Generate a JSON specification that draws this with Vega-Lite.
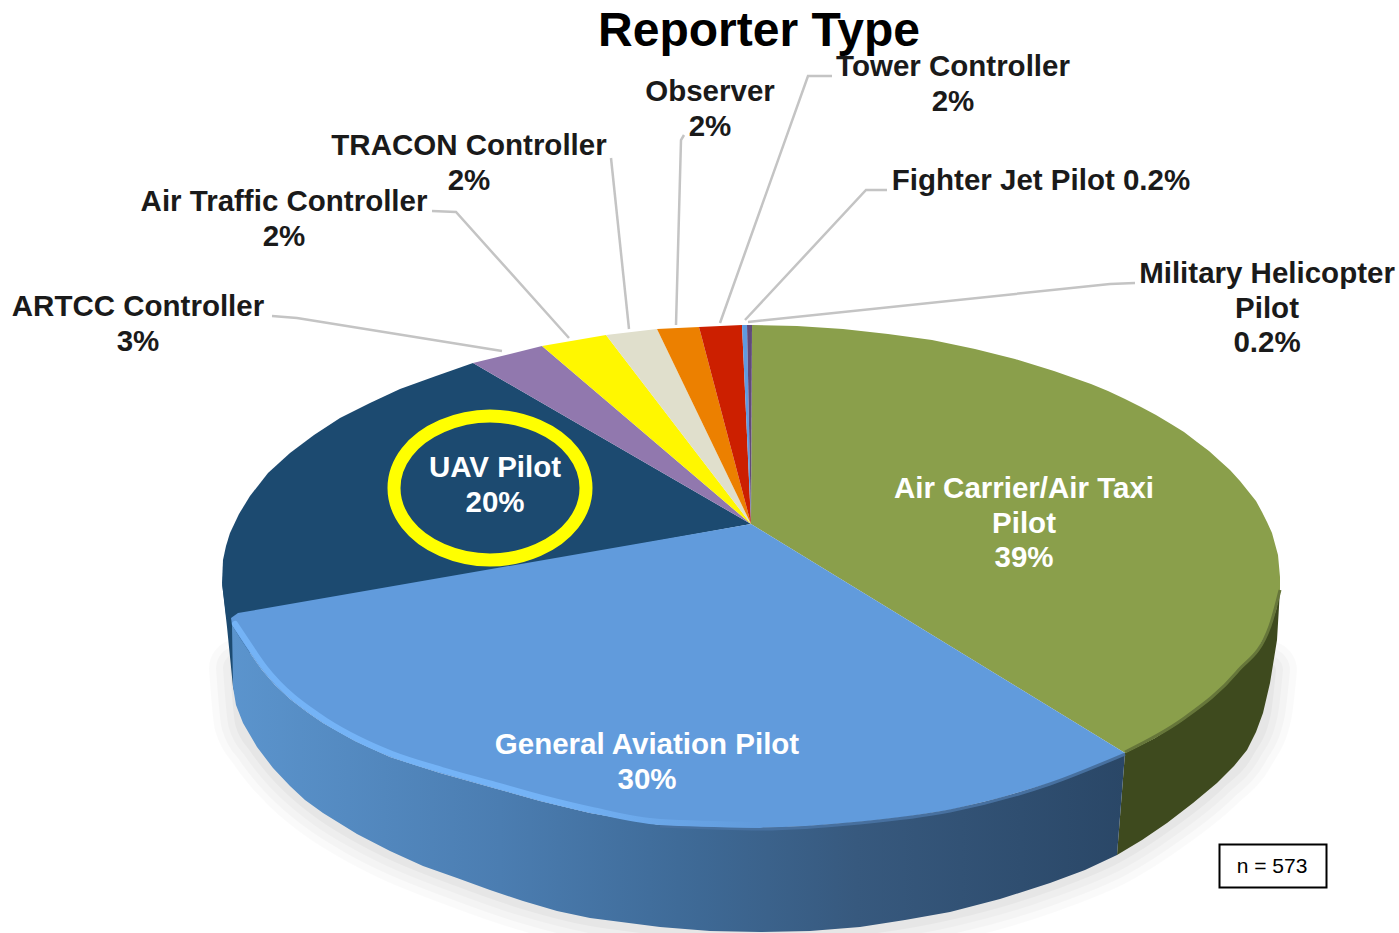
{"$schema":"https://vega.github.io/schema/vega-lite/v6.json","width":1399,"height":933,"padding":0,"autosize":{"type":"none"},"background":"white","view":{"stroke":null},
"config":{"view":{"stroke":null},"axis":{"disable":true},"legend":{"disable":true}},
"datasets":{
"faces":[
{"s":"Air Carrier/Air Taxi Pilot","i":0,"x":751,"y":524},{"s":"Air Carrier/Air Taxi Pilot","i":1,"x":752,"y":325},{"s":"Air Carrier/Air Taxi Pilot","i":2,"x":797,"y":326},{"s":"Air Carrier/Air Taxi Pilot","i":3,"x":843,"y":329},{"s":"Air Carrier/Air Taxi Pilot","i":4,"x":888,"y":334},{"s":"Air Carrier/Air Taxi Pilot","i":5,"x":932,"y":340},{"s":"Air Carrier/Air Taxi Pilot","i":6,"x":975,"y":349},{"s":"Air Carrier/Air Taxi Pilot","i":7,"x":1015,"y":359},{"s":"Air Carrier/Air Taxi Pilot","i":8,"x":1054,"y":371},{"s":"Air Carrier/Air Taxi Pilot","i":9,"x":1091,"y":384},{"s":"Air Carrier/Air Taxi Pilot","i":10,"x":1108,"y":391},{"s":"Air Carrier/Air Taxi Pilot","i":11,"x":1125,"y":399},{"s":"Air Carrier/Air Taxi Pilot","i":12,"x":1141,"y":407},{"s":"Air Carrier/Air Taxi Pilot","i":13,"x":1156,"y":415},{"s":"Air Carrier/Air Taxi Pilot","i":14,"x":1171,"y":424},{"s":"Air Carrier/Air Taxi Pilot","i":15,"x":1184,"y":432},{"s":"Air Carrier/Air Taxi Pilot","i":16,"x":1197,"y":442},{"s":"Air Carrier/Air Taxi Pilot","i":17,"x":1209,"y":451},{"s":"Air Carrier/Air Taxi Pilot","i":18,"x":1220,"y":461},{"s":"Air Carrier/Air Taxi Pilot","i":19,"x":1230,"y":470},{"s":"Air Carrier/Air Taxi Pilot","i":20,"x":1240,"y":481},{"s":"Air Carrier/Air Taxi Pilot","i":21,"x":1248,"y":491},{"s":"Air Carrier/Air Taxi Pilot","i":22,"x":1256,"y":501},{"s":"Air Carrier/Air Taxi Pilot","i":23,"x":1262,"y":512},{"s":"Air Carrier/Air Taxi Pilot","i":24,"x":1267,"y":522},{"s":"Air Carrier/Air Taxi Pilot","i":25,"x":1272,"y":533},{"s":"Air Carrier/Air Taxi Pilot","i":26,"x":1275,"y":544},{"s":"Air Carrier/Air Taxi Pilot","i":27,"x":1278,"y":555},{"s":"Air Carrier/Air Taxi Pilot","i":28,"x":1279,"y":566},{"s":"Air Carrier/Air Taxi Pilot","i":29,"x":1280,"y":577},{"s":"Air Carrier/Air Taxi Pilot","i":30,"x":1280,"y":592},{"s":"Air Carrier/Air Taxi Pilot","i":31,"x":1276,"y":610},{"s":"Air Carrier/Air Taxi Pilot","i":32,"x":1270,"y":627},{"s":"Air Carrier/Air Taxi Pilot","i":33,"x":1256,"y":652},{"s":"Air Carrier/Air Taxi Pilot","i":34,"x":1237,"y":673},{"s":"Air Carrier/Air Taxi Pilot","i":35,"x":1212,"y":698},{"s":"Air Carrier/Air Taxi Pilot","i":36,"x":1183,"y":720},{"s":"Air Carrier/Air Taxi Pilot","i":37,"x":1155,"y":738},{"s":"Air Carrier/Air Taxi Pilot","i":38,"x":1125,"y":753},
{"s":"UAV Pilot","i":0,"x":751,"y":524},{"s":"UAV Pilot","i":1,"x":232,"y":618},{"s":"UAV Pilot","i":2,"x":226,"y":615},{"s":"UAV Pilot","i":3,"x":222,"y":583},{"s":"UAV Pilot","i":4,"x":223,"y":560},{"s":"UAV Pilot","i":5,"x":226,"y":546},{"s":"UAV Pilot","i":6,"x":230,"y":533},{"s":"UAV Pilot","i":7,"x":239,"y":514},{"s":"UAV Pilot","i":8,"x":250,"y":496},{"s":"UAV Pilot","i":9,"x":268,"y":473},{"s":"UAV Pilot","i":10,"x":290,"y":453},{"s":"UAV Pilot","i":11,"x":314,"y":435},{"s":"UAV Pilot","i":12,"x":340,"y":418},{"s":"UAV Pilot","i":13,"x":370,"y":403},{"s":"UAV Pilot","i":14,"x":400,"y":389},{"s":"UAV Pilot","i":15,"x":436,"y":376},{"s":"UAV Pilot","i":16,"x":473,"y":363},
{"s":"General Aviation Pilot","i":0,"x":751,"y":524},{"s":"General Aviation Pilot","i":1,"x":1125,"y":753},{"s":"General Aviation Pilot","i":2,"x":1090,"y":769},{"s":"General Aviation Pilot","i":3,"x":1050,"y":783},{"s":"General Aviation Pilot","i":4,"x":1000,"y":798},{"s":"General Aviation Pilot","i":5,"x":950,"y":810},{"s":"General Aviation Pilot","i":6,"x":905,"y":817},{"s":"General Aviation Pilot","i":7,"x":860,"y":822},{"s":"General Aviation Pilot","i":8,"x":810,"y":826},{"s":"General Aviation Pilot","i":9,"x":760,"y":828},{"s":"General Aviation Pilot","i":10,"x":710,"y":828},{"s":"General Aviation Pilot","i":11,"x":660,"y":825},{"s":"General Aviation Pilot","i":12,"x":590,"y":813},{"s":"General Aviation Pilot","i":13,"x":540,"y":801},{"s":"General Aviation Pilot","i":14,"x":490,"y":787},{"s":"General Aviation Pilot","i":15,"x":440,"y":773},{"s":"General Aviation Pilot","i":16,"x":390,"y":757},{"s":"General Aviation Pilot","i":17,"x":355,"y":741},{"s":"General Aviation Pilot","i":18,"x":323,"y":723},{"s":"General Aviation Pilot","i":19,"x":307,"y":712},{"s":"General Aviation Pilot","i":20,"x":290,"y":699},{"s":"General Aviation Pilot","i":21,"x":275,"y":685},{"s":"General Aviation Pilot","i":22,"x":262,"y":670},{"s":"General Aviation Pilot","i":23,"x":250,"y":653},{"s":"General Aviation Pilot","i":24,"x":240,"y":638},{"s":"General Aviation Pilot","i":25,"x":232,"y":625},{"s":"General Aviation Pilot","i":26,"x":231,"y":618},{"s":"General Aviation Pilot","i":27,"x":238,"y":613},
{"s":"ARTCC Controller","i":0,"x":751,"y":524},{"s":"ARTCC Controller","i":1,"x":473,"y":363},{"s":"ARTCC Controller","i":2,"x":542,"y":346},
{"s":"Air Traffic Controller","i":0,"x":751,"y":524},{"s":"Air Traffic Controller","i":1,"x":542,"y":346},{"s":"Air Traffic Controller","i":2,"x":606,"y":335},
{"s":"TRACON Controller","i":0,"x":751,"y":524},{"s":"TRACON Controller","i":1,"x":606,"y":335},{"s":"TRACON Controller","i":2,"x":657,"y":329},
{"s":"Observer","i":0,"x":751,"y":524},{"s":"Observer","i":1,"x":657,"y":329},{"s":"Observer","i":2,"x":699,"y":327},
{"s":"Tower Controller","i":0,"x":751,"y":524},{"s":"Tower Controller","i":1,"x":699,"y":327},{"s":"Tower Controller","i":2,"x":742,"y":325},
{"s":"Fighter Jet Pilot","i":0,"x":751,"y":524},{"s":"Fighter Jet Pilot","i":1,"x":742,"y":325},{"s":"Fighter Jet Pilot","i":2,"x":747,"y":325},
{"s":"Military Helicopter Pilot","i":0,"x":751,"y":524},{"s":"Military Helicopter Pilot","i":1,"x":747,"y":325},{"s":"Military Helicopter Pilot","i":2,"x":752,"y":325}
],
"greenWall":[{"i":0,"x":1280,"y":590},{"i":1,"x":1276,"y":610},{"i":2,"x":1270,"y":627},{"i":3,"x":1256,"y":652},{"i":4,"x":1237,"y":673},{"i":5,"x":1212,"y":698},{"i":6,"x":1183,"y":720},{"i":7,"x":1155,"y":738},{"i":8,"x":1125,"y":753},{"i":9,"x":1117,"y":855},{"i":10,"x":1142,"y":840},{"i":11,"x":1167,"y":823},{"i":12,"x":1193,"y":803},{"i":13,"x":1217,"y":783},{"i":14,"x":1234,"y":766},{"i":15,"x":1247,"y":750},{"i":16,"x":1256,"y":732},{"i":17,"x":1263,"y":713},{"i":18,"x":1270,"y":683},{"i":19,"x":1277,"y":640}],
"uavWall":[{"i":0,"x":222,"y":583},{"i":1,"x":227,"y":627},{"i":2,"x":233,"y":687},{"i":3,"x":241,"y":716},{"i":4,"x":262,"y":720},{"i":5,"x":245,"y":625}],
"blueWall":[{"i":0,"x":232,"y":625},{"i":1,"x":240,"y":638},{"i":2,"x":250,"y":653},{"i":3,"x":262,"y":670},{"i":4,"x":275,"y":685},{"i":5,"x":290,"y":699},{"i":6,"x":307,"y":712},{"i":7,"x":323,"y":723},{"i":8,"x":355,"y":741},{"i":9,"x":390,"y":757},{"i":10,"x":440,"y":773},{"i":11,"x":490,"y":787},{"i":12,"x":540,"y":801},{"i":13,"x":590,"y":813},{"i":14,"x":660,"y":825},{"i":15,"x":710,"y":828},{"i":16,"x":760,"y":828},{"i":17,"x":810,"y":826},{"i":18,"x":860,"y":822},{"i":19,"x":905,"y":817},{"i":20,"x":950,"y":810},{"i":21,"x":1000,"y":798},{"i":22,"x":1050,"y":783},{"i":23,"x":1090,"y":769},{"i":24,"x":1125,"y":753},{"i":25,"x":1117,"y":855},{"i":26,"x":1085,"y":870},{"i":27,"x":1050,"y":883},{"i":28,"x":1000,"y":899},{"i":29,"x":950,"y":912},{"i":30,"x":905,"y":920},{"i":31,"x":860,"y":927},{"i":32,"x":810,"y":931},{"i":33,"x":760,"y":932},{"i":34,"x":710,"y":931},{"i":35,"x":660,"y":927},{"i":36,"x":590,"y":918},{"i":37,"x":557,"y":911},{"i":38,"x":523,"y":901},{"i":39,"x":490,"y":890},{"i":40,"x":457,"y":878},{"i":41,"x":423,"y":866},{"i":42,"x":390,"y":851},{"i":43,"x":357,"y":834},{"i":44,"x":323,"y":813},{"i":45,"x":305,"y":800},{"i":46,"x":290,"y":786},{"i":47,"x":273,"y":768},{"i":48,"x":257,"y":747},{"i":49,"x":243,"y":723},{"i":50,"x":236,"y":705},{"i":51,"x":233,"y":687}],
"rim":[{"i":0,"x":238,"y":668},{"i":1,"x":243,"y":723},{"i":2,"x":257,"y":747},{"i":3,"x":273,"y":768},{"i":4,"x":290,"y":786},{"i":5,"x":323,"y":813},{"i":6,"x":357,"y":834},{"i":7,"x":390,"y":851},{"i":8,"x":457,"y":878},{"i":9,"x":523,"y":901},{"i":10,"x":590,"y":918},{"i":11,"x":660,"y":927},{"i":12,"x":760,"y":932},{"i":13,"x":860,"y":927},{"i":14,"x":950,"y":912},{"i":15,"x":1050,"y":883},{"i":16,"x":1117,"y":855},{"i":17,"x":1167,"y":823},{"i":18,"x":1217,"y":783},{"i":19,"x":1247,"y":750},{"i":20,"x":1263,"y":713},{"i":21,"x":1268,"y":670}],
"highlight":[{"i":0,"x":235,"y":624},{"i":1,"x":243,"y":636},{"i":2,"x":253,"y":651},{"i":3,"x":265,"y":668},{"i":4,"x":278,"y":683},{"i":5,"x":293,"y":697},{"i":6,"x":310,"y":710},{"i":7,"x":326,"y":721},{"i":8,"x":358,"y":739},{"i":9,"x":392,"y":754},{"i":10,"x":442,"y":770},{"i":11,"x":492,"y":784},{"i":12,"x":542,"y":798},{"i":13,"x":592,"y":810},{"i":14,"x":660,"y":822},{"i":15,"x":760,"y":825}],
"greenEdge":[{"i":0,"x":1280,"y":590},{"i":1,"x":1270,"y":626},{"i":2,"x":1237,"y":672},{"i":3,"x":1183,"y":719},{"i":4,"x":1125,"y":752}],
"blueEdge":[{"i":0,"x":660,"y":826},{"i":1,"x":760,"y":829},{"i":2,"x":860,"y":823},{"i":3,"x":950,"y":811},{"i":4,"x":1050,"y":784},{"i":5,"x":1125,"y":754}],
"leaders":[
{"l":"ARTCC","i":0,"x":272,"y":316},{"l":"ARTCC","i":1,"x":297,"y":318},{"l":"ARTCC","i":2,"x":502,"y":351},
{"l":"ATC","i":0,"x":432,"y":211},{"l":"ATC","i":1,"x":456,"y":212},{"l":"ATC","i":2,"x":569,"y":338},
{"l":"TRACON","i":0,"x":611,"y":158},{"l":"TRACON","i":1,"x":629,"y":329},
{"l":"Observer","i":0,"x":684,"y":135},{"l":"Observer","i":1,"x":681,"y":140},{"l":"Observer","i":2,"x":676,"y":325},
{"l":"Tower","i":0,"x":832,"y":76},{"l":"Tower","i":1,"x":808,"y":76},{"l":"Tower","i":2,"x":720,"y":323},
{"l":"Fighter","i":0,"x":887,"y":190},{"l":"Fighter","i":1,"x":866,"y":190},{"l":"Fighter","i":2,"x":745,"y":320},
{"l":"Military","i":0,"x":1135,"y":283},{"l":"Military","i":1,"x":1110,"y":284},{"l":"Military","i":2,"x":748,"y":322}],
"ring":[{"i":0,"x":586,"y":488},{"i":1,"x":573,"y":452},{"i":2,"x":538,"y":426},{"i":3,"x":490,"y":416},{"i":4,"x":442,"y":426},{"i":5,"x":407,"y":452},{"i":6,"x":394,"y":488},{"i":7,"x":407,"y":524},{"i":8,"x":442,"y":550},{"i":9,"x":490,"y":560},{"i":10,"x":538,"y":550},{"i":11,"x":573,"y":524}],
"darkLabels":[{"t":"Tower Controller\n2%","x":953,"y":67},{"t":"Observer\n2%","x":710,"y":92},{"t":"TRACON Controller\n2%","x":469,"y":146},{"t":"Air Traffic Controller\n2%","x":284,"y":202},{"t":"ARTCC Controller\n3%","x":138,"y":307},{"t":"Fighter Jet Pilot 0.2%","x":1041,"y":181},{"t":"Military Helicopter\nPilot\n0.2%","x":1267,"y":274}],
"lightLabels":[{"t":"UAV Pilot\n20%","x":495,"y":468},{"t":"Air Carrier/Air Taxi\nPilot\n39%","x":1024,"y":489},{"t":"General Aviation Pilot\n30%","x":647,"y":745}]
},
"encoding":{"x":{"field":"x","type":"quantitative","scale":{"domain":[0,1399],"nice":false,"zero":false},"axis":null},"y":{"field":"y","type":"quantitative","scale":{"domain":[933,0],"nice":false,"zero":false},"axis":null}},
"layer":[
{"data":{"name":"rim"},"mark":{"type":"line","stroke":"#000000","strokeOpacity":0.02,"strokeWidth":58,"strokeCap":"round","interpolate":"monotone"},"encoding":{"order":{"field":"i"}}},
{"data":{"name":"rim"},"mark":{"type":"line","stroke":"#000000","strokeOpacity":0.025,"strokeWidth":44,"strokeCap":"round","interpolate":"monotone"},"encoding":{"order":{"field":"i"}}},
{"data":{"name":"rim"},"mark":{"type":"line","stroke":"#000000","strokeOpacity":0.025,"strokeWidth":30,"strokeCap":"round","interpolate":"monotone"},"encoding":{"order":{"field":"i"}}},
{"data":{"name":"rim"},"mark":{"type":"line","stroke":"#000000","strokeOpacity":0.03,"strokeWidth":16,"strokeCap":"round","interpolate":"monotone"},"encoding":{"order":{"field":"i"}}},
{"data":{"name":"uavWall"},"mark":{"type":"line","fill":"#1c4a70","strokeWidth":0},"encoding":{"order":{"field":"i"}}},
{"data":{"name":"greenWall"},"mark":{"type":"line","fill":"#3e4a1e","strokeWidth":0},"encoding":{"order":{"field":"i"}}},
{"data":{"name":"blueWall"},"mark":{"type":"line","strokeWidth":0,"fill":{"gradient":"linear","x1":0,"y1":0,"x2":1,"y2":0,"stops":[{"offset":0,"color":"#5b94cd"},{"offset":0.3,"color":"#4b7db1"},{"offset":0.5,"color":"#3f6b98"},{"offset":0.7,"color":"#37597e"},{"offset":1,"color":"#2a4767"}]}},"encoding":{"order":{"field":"i"}}},
{"data":{"name":"faces"},"mark":{"type":"line","strokeWidth":0},"encoding":{"detail":{"field":"s"},"order":{"field":"i"},"fill":{"field":"s","type":"nominal","legend":null,"scale":{"domain":["Air Carrier/Air Taxi Pilot","General Aviation Pilot","UAV Pilot","ARTCC Controller","Air Traffic Controller","TRACON Controller","Observer","Tower Controller","Fighter Jet Pilot","Military Helicopter Pilot"],"range":["#8a9f4b","#619bdc","#1c4a70","#9178ae","#fff700","#e0dfcc","#ec8000","#cc1f00","#5f9ae0","#604a7b"]}}}},
{"data":{"name":"greenEdge"},"mark":{"type":"line","stroke":"#66763a","strokeWidth":3,"interpolate":"monotone"},"encoding":{"order":{"field":"i"}}},
{"data":{"name":"blueEdge"},"mark":{"type":"line","stroke":"#47709f","strokeWidth":3,"interpolate":"monotone"},"encoding":{"order":{"field":"i"}}},
{"data":{"name":"highlight"},"mark":{"type":"line","strokeWidth":6,"strokeCap":"round","interpolate":"monotone","stroke":{"gradient":"linear","x1":0,"y1":0,"x2":1,"y2":0,"stops":[{"offset":0,"color":"#74b3f6"},{"offset":0.6,"color":"#74b3f6"},{"offset":1,"color":"#619bdc"}]}},"encoding":{"order":{"field":"i"}}},
{"data":{"name":"leaders"},"mark":{"type":"line","stroke":"#c4c4c4","strokeWidth":2.5},"encoding":{"detail":{"field":"l"},"order":{"field":"i"}}},
{"data":{"name":"ring"},"mark":{"type":"line","stroke":"#ffff00","strokeWidth":13,"interpolate":"cardinal-closed"},"encoding":{"order":{"field":"i"}}},
{"data":{"values":[{"x":1219.5,"x2":1326.5,"y":844.5,"y2":887.5}]},"mark":{"type":"rect","fill":"#ffffff","stroke":"#000000","strokeWidth":2},"encoding":{"x2":{"field":"x2"},"y2":{"field":"y2"}}},
{"data":{"values":[{"t":"n = 573","x":1272,"y":867}]},"mark":{"type":"text","font":"Liberation Sans","fontSize":21,"fill":"#000000","align":"center","baseline":"middle"},"encoding":{"text":{"field":"t"}}},
{"data":{"values":[{"t":"Reporter Type","x":759,"y":32}]},"mark":{"type":"text","font":"Liberation Sans","fontWeight":"bold","fontSize":48,"fill":"#000000","align":"center","baseline":"middle"},"encoding":{"text":{"field":"t"}}},
{"data":{"name":"darkLabels"},"mark":{"type":"text","font":"Liberation Sans","fontWeight":"bold","fontSize":29.5,"lineHeight":34.5,"lineBreak":"\n","fill":"#1a1a1a","align":"center","baseline":"middle"},"encoding":{"text":{"field":"t"}}},
{"data":{"name":"lightLabels"},"mark":{"type":"text","font":"Liberation Sans","fontWeight":"bold","fontSize":29.5,"lineHeight":34.5,"lineBreak":"\n","fill":"#ffffff","align":"center","baseline":"middle"},"encoding":{"text":{"field":"t"}}}
]}
